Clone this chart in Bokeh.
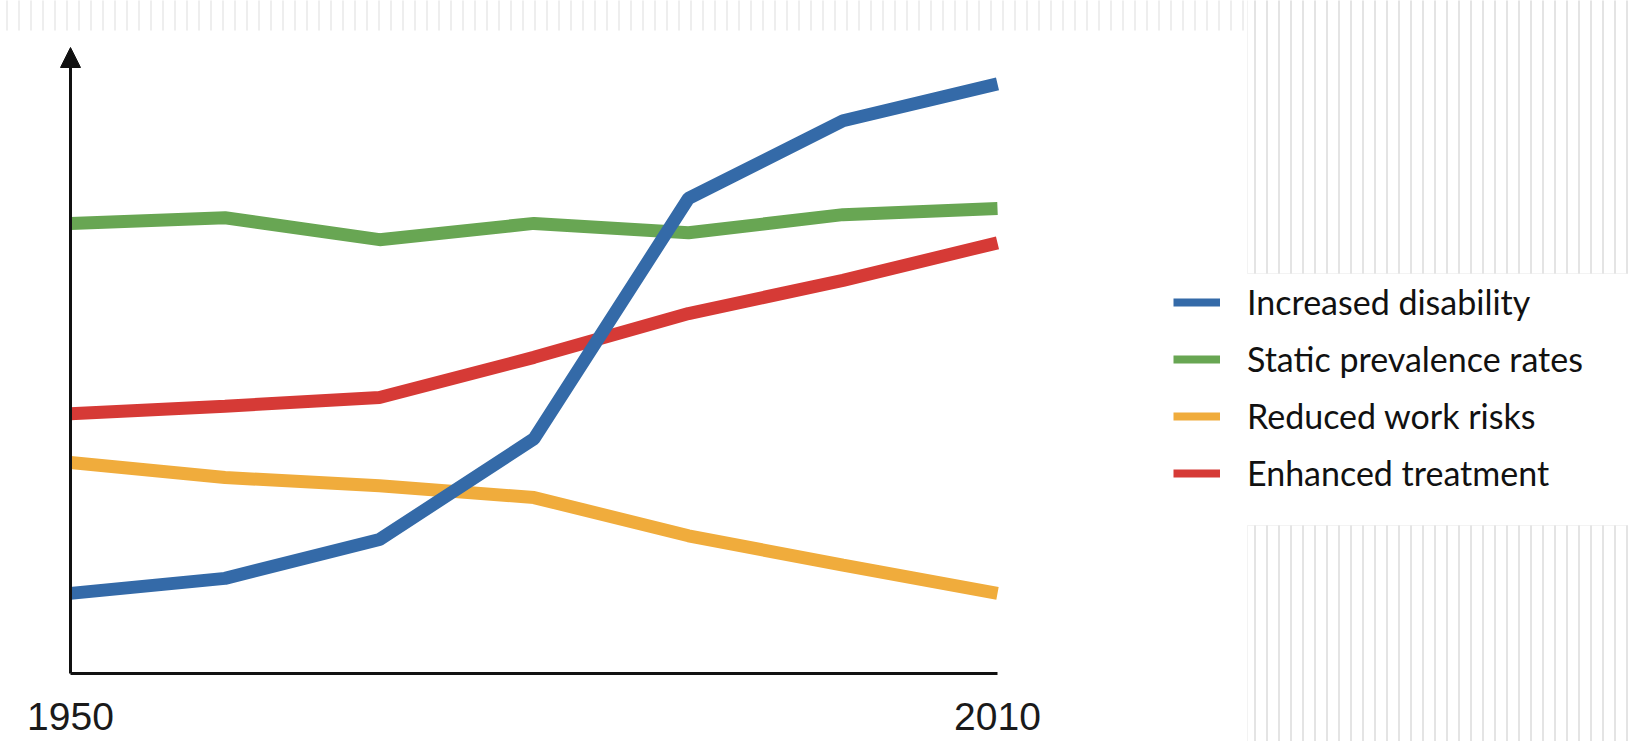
from bokeh.plotting import figure
from bokeh.models import (Range1d, Arrow, NormalHead, Legend, LegendItem,
                          FixedTicker, BoxAnnotation)
from bokeh.embed import file_html
from bokeh.resources import INLINE

# ---- data (arbitrary 0-100 scale) ----
years = [1950, 1960, 1970, 1980, 1990, 2000, 2010]
increased_disability = [12.8, 15.2, 21.4, 37.5, 75.9, 88.3, 94.2]
static_prevalence = [71.9, 72.8, 69.3, 71.9, 70.4, 73.3, 74.3]
reduced_work_risks = [33.7, 31.3, 30.0, 28.1, 22.0, 17.3, 12.8]
enhanced_treatment = [41.5, 42.7, 44.1, 50.5, 57.5, 62.8, 68.8]
series_names = ["Increased disability", "Static prevalence rates",
                "Reduced work risks", "Enhanced treatment"]
tick_years = [1950, 2010]

BLUE, GREEN, ORANGE, RED = "#346aa8", "#68a653", "#f0ac3c", "#d63a36"
AXIS = "#111111"

W, H = 1628, 741
# frame covers the whole canvas; ranges chosen so that 1950..2010 spans
# pixels 70..997 and 0..100 spans pixels 673..47
px_per_year = 927 / 60.0
px_per_unit = 626 / 100.0
x0 = 1950 - 70 / px_per_year
x1 = 2010 + (W - 997) / px_per_year
y0 = 0 - (H - 673) / px_per_unit
y1 = 100 + 47 / px_per_unit

p = figure(width=W, height=H, min_border=0,
           x_range=Range1d(x0, x1), y_range=Range1d(y0, y1),
           output_backend="svg", toolbar_location=None)
p.outline_line_color = None
p.background_fill_color = "white"
p.border_fill_color = "white"
p.xgrid.visible = False
p.ygrid.visible = False

# background stripes (decoration of the original slide), screen units
stripe_kw = dict(left_units="screen", right_units="screen",
                 top_units="screen", bottom_units="screen",
                 fill_alpha=0, hatch_pattern="vertical_line", hatch_scale=12,
                 hatch_weight=2, level="underlay")
p.add_layout(BoxAnnotation(left=1247, right=1640, bottom=H - 273, top=H + 5,
                           hatch_color="#e4e4e4", line_color="#d8d8d8",
                           line_width=1, **stripe_kw))
p.add_layout(BoxAnnotation(left=1247, right=1640, bottom=-5, top=H - 525,
                           hatch_color="#e4e4e4", line_color="#d8d8d8",
                           line_width=1, **stripe_kw))
p.add_layout(BoxAnnotation(left=0, right=1247, bottom=H - 30, top=H + 5,
                           hatch_color="#eeeeee", line_alpha=0, **stripe_kw))

# series lines (blue drawn last: on top)
lw = 13
p.line(years, static_prevalence, line_color=GREEN, line_width=lw)
p.line(years, reduced_work_risks, line_color=ORANGE, line_width=lw)
p.line(years, enhanced_treatment, line_color=RED, line_width=lw)
p.line(years, increased_disability, line_color=BLUE, line_width=lw)

# axes, fixed at the origin inside the frame
xa = p.xaxis[0]
xa.fixed_location = 0
xa.ticker = FixedTicker(ticks=tick_years)
xa.bounds = (1950, 2010)
xa.axis_line_width = 3
xa.axis_line_color = AXIS
xa.major_tick_line_color = None
xa.minor_tick_line_color = None
xa.major_tick_out = 0
xa.major_tick_in = 0
xa.major_label_standoff = 29
xa.major_label_text_font = "Liberation Sans"
xa.major_label_text_font_size = "39px"
xa.major_label_text_color = "#1a1a1a"

ya = p.yaxis[0]
ya.fixed_location = 1950
ya.ticker = FixedTicker(ticks=[])
ya.bounds = (0, 97)
ya.axis_line_width = 3
ya.axis_line_color = AXIS
ya.major_tick_line_color = None
ya.minor_tick_line_color = None
ya.major_label_text_alpha = 0
ya.major_tick_out = 0
ya.major_tick_in = 0

p.add_layout(Arrow(end=NormalHead(size=20, fill_color=AXIS, line_color=AXIS),
                   x_start=1950, y_start=95, x_end=1950, y_end=100,
                   line_width=3, line_color=AXIS))

# legend: hidden copies of the series with thinner swatch lines
legend_series = [increased_disability, static_prevalence,
                 reduced_work_risks, enhanced_treatment]
legend_colors = [BLUE, GREEN, ORANGE, RED]
items = []
for name, ys, col in zip(series_names, legend_series, legend_colors):
    r = p.line(years, ys, line_color=col, line_width=8, visible=False)
    items.append(LegendItem(label=name, renderers=[r]))
legend = Legend(items=items, location=(1173, H - 493),
                glyph_width=47, glyph_height=40, label_height=40,
                label_standoff=27, spacing=16, padding=0, margin=0,
                border_line_alpha=0, background_fill_alpha=0,
                label_text_font="Lato", label_text_font_size="34px",
                label_text_color="#111111")
p.add_layout(legend)

open("out.html", "w").write(file_html(p, INLINE))
